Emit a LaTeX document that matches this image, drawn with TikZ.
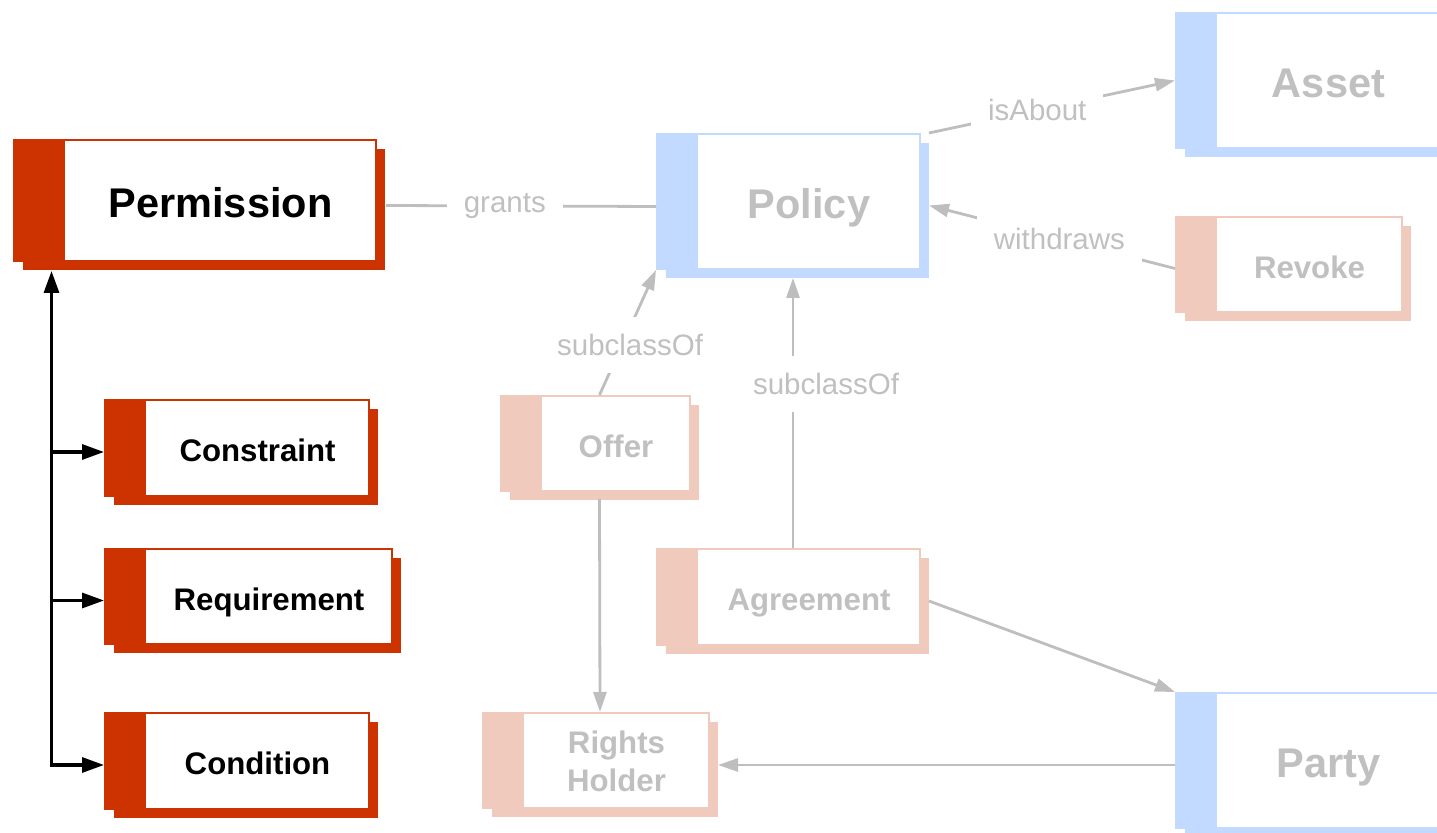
\documentclass[tikz,border=0pt]{standalone}
\usepackage{fontspec}
\setmainfont{Liberation Sans}
\usetikzlibrary{arrows.meta,shadows}
\definecolor{kred}{HTML}{CC3300}
\definecolor{kblue}{HTML}{C2DAFF}
\definecolor{ksalmon}{HTML}{F1CABE}
\definecolor{kgray}{HTML}{BEBEBE}
\definecolor{kgraytext}{HTML}{C0C0C0}
\newlength{\bandw}
\setlength{\bandw}{20.5pt}

\begin{document}
\begin{tikzpicture}[x=0.5pt,y=-0.5pt,
  band/.code={\setlength{\bandw}{#1}},
  klass/.style={rectangle, draw=#1, line width=1pt, fill=white, inner sep=0pt,
    drop shadow={shadow xshift=4.5pt, shadow yshift=-4.5pt, opacity=1, fill=#1},
    path picture={\fill[#1] (path picture bounding box.south west)
      rectangle ([xshift=\bandw]path picture bounding box.north west);}},
  bigtext/.style={xshift=10.25pt, yshift=-1pt, text height=14.86pt, text depth=0pt,
    font=\fontsize{20.75}{25}\selectfont\bfseries},
  smalltext/.style={xshift=10.25pt, yshift=-1.2pt, text height=11.17pt, text depth=0pt,
    font=\fontsize{15.6}{18.8}\selectfont\bfseries},
  twolines/.style={xshift=10.25pt, yshift=-0.5pt, align=center,
    font=\fontsize{15.6}{18.8}\selectfont\bfseries},
  faded/.style={text=kgraytext},
  elabel/.style={fill=white, inner sep=8.5pt, text=kgraytext, font=\fontsize{14.75}{17.7}\selectfont},
  gline/.style={draw=kgray, line width=1.4pt},
  garrow/.style={gline, -{Triangle[length=10pt,width=6.5pt]}},
  blk/.style={line width=1.6pt, >={Triangle[length=11pt,width=7.5pt]}}]

  \useasboundingbox (0,0) rectangle (1437,833);
  \clip (0,0) rectangle (1437,833);

  %% left column
  \node[klass=kred, band=25.5pt, minimum width=181pt, minimum height=60.5pt,
        label={[name=perm-t, bigtext, xshift=2.5pt]center:Permission}] (perm) at (195,200.5) {};
  \node[klass=kred, minimum width=132pt, minimum height=48pt,
        label={[name=con-t, smalltext]center:Constraint}] (con) at (237,448) {};
  \node[klass=kred, minimum width=143.5pt, minimum height=47.5pt,
        label={[name=req-t, smalltext]center:Requirement}] (req) at (248.5,596.5) {};
  \node[klass=kred, minimum width=132pt, minimum height=48pt,
        label={[name=cond-t, smalltext]center:Condition}] (cond) at (237,761) {};

  %% faded classes
  \node[klass=kblue, minimum width=131.5pt, minimum height=67.5pt,
        label={[name=policy-t, bigtext, faded]center:Policy}] (policy) at (788.5,201.5) {};
  \node[klass=kblue, minimum width=132pt, minimum height=67.5pt,
        label={[name=asset-t, bigtext, faded]center:Asset}] (asset) at (1308,80.5) {};
  \node[klass=ksalmon, minimum width=113pt, minimum height=47.5pt,
        label={[name=revoke-t, smalltext, faded]center:Revoke}] (revoke) at (1289,264.5) {};
  \node[klass=ksalmon, minimum width=94.5pt, minimum height=47.5pt,
        label={[name=offer-t, smalltext, faded]center:Offer}] (offer) at (595.5,443.5) {};
  \node[klass=ksalmon, minimum width=131.5pt, minimum height=48pt,
        label={[name=agree-t, smalltext, faded]center:Agreement}] (agree) at (788.5,597) {};
  \node[klass=ksalmon, minimum width=113pt, minimum height=47.5pt,
        label={[name=rh-t, twolines, faded]center:Rights\\Holder}] (rh) at (596,760.5) {};
  \node[klass=kblue, minimum width=132pt, minimum height=67.5pt,
        label={[name=party-t, bigtext, faded]center:Party}] (party) at (1308,760.5) {};

  %% black tree
  \coordinate (spine) at (52,765);
  \coordinate (con-in) at ([yshift=-2pt]con.west);
  \coordinate (req-in) at ([yshift=-2pt]req.west);
  \coordinate (cond-in) at ([yshift=-2pt]cond.west);
  \draw[blk,<->] ([xshift=19.25pt,yshift=-4.5pt]perm.south west) |- (cond-in);
  \draw[blk,->] (spine |- con-in) -- (con-in);
  \draw[blk,->] (spine |- req-in) -- (req-in);

  %% grey relations
  \draw[gline] ([xshift=4.5pt,yshift=-2.5pt]perm.east) -- node[elabel, pos=0.44] (grants) {grants}
        ([yshift=-2.5pt]policy.west);
  \draw[garrow] ([xshift=4pt]policy.north east) -- node[elabel, pos=0.44] (isabout) {isAbout} (asset.west);
  \draw[garrow] ([yshift=-2pt]revoke.west) -- node[elabel, pos=0.47] (withdraws) {withdraws}
        ([xshift=4pt,yshift=-2pt]policy.east);
  \draw[garrow] ([xshift=2pt]offer.north) -- node[elabel, pos=0.4, xshift=4pt] (sub-offer) {subclassOf}
        (policy.south west);
  \draw[garrow] ([xshift=2.25pt]agree.north) -- node[elabel, pos=0.607, xshift=16.5pt] (sub-agree) {subclassOf}
        ([xshift=2.25pt,yshift=-4pt]policy.south);
  \draw[garrow] ([xshift=2pt,yshift=-3.5pt]offer.south) -- ([xshift=2pt]rh.north);
  \draw[garrow] ([xshift=4pt,yshift=-2pt]agree.east) -- (party.north west);
  \draw[garrow] ([yshift=-2.25pt]party.west) -- ([xshift=4pt,yshift=-2.25pt]rh.east);
\end{tikzpicture}
\end{document}
